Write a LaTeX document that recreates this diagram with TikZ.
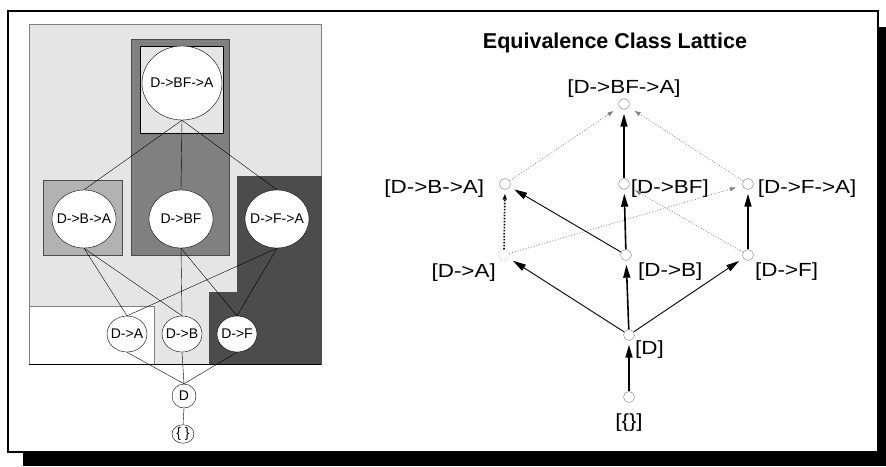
\documentclass[tikz,border=0pt]{standalone}
\usepackage{graphicx}
\usepackage{fontspec}
\setmainfont{Liberation Sans}
\usetikzlibrary{shapes.geometric,arrows.meta,positioning}

% lattice labels are set a little wide
\newcommand\widelbl[1]{\scalebox{1.18}[1]{#1}}

\begin{document}
\begin{tikzpicture}[x=1pt,y=-1pt,
  oval/.style={ellipse,draw,fill=white,inner ysep=0pt,inner xsep=-10pt,font=\fontsize{14}{14}\selectfont},
  dot/.style={circle,draw=gray,fill=white,inner sep=0pt,minimum size=11pt},
  lbl/.style={inner sep=1pt,font=\fontsize{19}{19}\selectfont},
  thickarr/.style={line width=1.6pt,-{Triangle[length=13pt,width=7pt]},shorten >=4pt},
  thinarr/.style={line width=0.9pt,-{Triangle[length=13pt,width=7pt]},shorten >=5pt},
  grydot/.style={gray,line width=0.8pt,dotted,-{Triangle[length=6pt,width=4pt]},shorten >=7pt},
  blkdot/.style={line width=1.7pt,dash pattern=on 1.5pt off 1.5pt,-{Triangle[length=6pt,width=4pt]},shorten >=4pt}]
\useasboundingbox (0,0) rectangle (886,466);

% frame with drop shadow
\fill (23,27) rectangle (886,466);
\draw[line width=2pt,fill=white] (8,11) rectangle (878,452);

% shaded partition blocks
\draw[gray,fill=black!10] (29,24) rectangle (321,364);
\draw[black!70,fill=black!50] (131,39) rectangle (229,255);
\draw[fill=black!10] (140,46) rectangle (223,133);
\draw[black!70,fill=black!30] (43,180) rectangle (122,255);
\draw[black!70,fill=black!70] (237,176) -- (321,176) -- (321,364) -- (209,364)
  -- (209,292) -- (237,292) -- cycle;
\draw[gray,fill=white] (29,306) rectangle (154,364);
\draw (29,364) -- (321,364);

% left: dependency graph
\node[oval,minimum width=80pt,minimum height=74pt] (pBFA) at (182,83) {D->BF->A};
\node[oval,minimum width=64pt,minimum height=58pt] (pBA) at (84,219) {D->B->A};
\node[oval,minimum width=64pt,minimum height=58pt] (pBF) at (181,219) {D->BF};
\node[oval,minimum width=64pt,minimum height=58pt] (pFA) at (277,219) {D->F->A};
\node[oval,minimum width=40pt,minimum height=36pt] (pA) at (127,334) {D->A};
\node[oval,minimum width=40pt,minimum height=36pt] (pB) at (182,334) {D->B};
\node[oval,minimum width=40pt,minimum height=36pt] (pF) at (237,334) {D->F};
\node[oval,minimum width=24pt,minimum height=24pt] (pD) at (184,396) {D};
\node[oval,minimum width=22pt,minimum height=18pt] (pE) at (183,434) {\{ \}};

\draw (pBFA.south) -- (pBA.north);
\draw (pBFA.south) -- (pBF.north);
\draw (pBFA.south) -- (pFA.north);
\draw (pBA.south) -- (pA.north);
\draw (pBA.south) -- (pB.north);
\draw (pBF.south) -- (pB.north);
\draw (pBF.south) -- (pF.north);
\draw (pFA.south) -- (pA.north);
\draw (pFA.south) -- (pF.north);
\draw (pA.south) -- (pD.north);
\draw (pB.south) -- (pD.north);
\draw (pF.south) -- (pD.north);
\draw (pD.south) -- (pE.north);

% right: lattice
\node[font=\bfseries\fontsize{21.5}{21.5}\selectfont] (title) at (615,43) {Equivalence Class Lattice};

\node[dot] (top) at (624,104) {};
\node[dot] (ba) at (505,184) {};
\node[dot] (bf) at (624,184) {};
\node[dot] (fa) at (748,184) {};
\node[dot,densely dotted] (a) at (504,255) {};
\node[dot] (b) at (626,255) {};
\node[dot] (f) at (748,255) {};
\node[dot] (d) at (629,335) {};
\node[dot] (e) at (629,397) {};

\node[lbl,above=0pt of top] (top-l) {\widelbl{[D->BF->A]}};
\node[lbl,left=14pt of ba,yshift=-5pt] (ba-l) {\widelbl{[D->B->A]}};
\node[lbl,right=0pt of bf,yshift=-5pt] (bf-l) {\widelbl{[D->BF]}};
\node[lbl,right=3pt of fa,yshift=-5pt] (fa-l) {\widelbl{[D->F->A]}};
\node[lbl,below left=3pt and 3pt of a] (a-l) {\widelbl{[D->A]}};
\node[lbl,below right=2pt and 7pt of b] (b-l) {\widelbl{[D->B]}};
\node[lbl,below right=2pt and 2pt of f] (f-l) {\widelbl{[D->F]}};
\node[lbl,below right=0pt and 1pt of d] (d-l) {\widelbl{[D]}};
\node[lbl,below=10pt of e] (e-l) {\widelbl{[\{\}]}};

\draw[thickarr] (e) -- (d);
\draw[thinarr] (d) -- (a);
\draw[thickarr] (d) -- (b);
\draw[thinarr] (d) -- (f);
\draw[blkdot] (a) -- (ba);
\draw[grydot] (a) -- (fa);
\draw[thinarr] (b) -- (ba);
\draw[thickarr] (b) -- (bf);
\draw[grydot] (f) -- (bf);
\draw[thickarr] (f) -- (fa);
\draw[grydot] (ba) -- (top);
\draw[thickarr] (bf) -- (top);
\draw[grydot] (fa) -- (top);

\end{tikzpicture}
\end{document}
